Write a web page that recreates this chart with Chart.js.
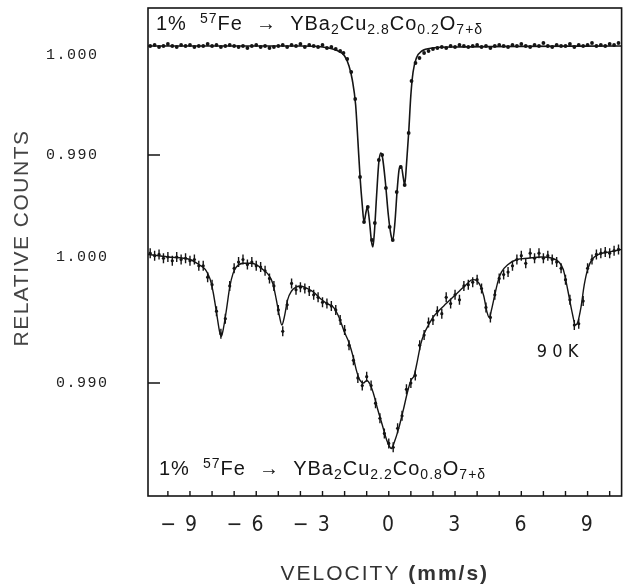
<!DOCTYPE html>
<html><head><meta charset="utf-8">
<script src="https://cdn.jsdelivr.net/npm/chart.js@4/dist/chart.umd.min.js"></script>
<style>html,body{margin:0;padding:0;background:#fff}#wrap{width:628px;height:588px}</style>
</head><body><div id="wrap"><canvas id="c" width="628" height="588"></canvas></div>
<script>
// ---- Top spectrum: 1% 57Fe -> YBa2Cu2.8Co0.2O7+d (measured points) ----
const velTop = [-10.8,-10.6,-10.4,-10.2,-10.0,-9.8,-9.6,-9.4,-9.2,-9.0,-8.8,-8.6,-8.4,-8.2,-8.0,-7.8,-7.6,-7.4,-7.2,-7.0,-6.8,-6.6,-6.4,-6.2,-6.0,-5.8,-5.6,-5.4,-5.2,-5.0,-4.8,-4.6,-4.4,-4.2,-4.0,-3.8,-3.6,-3.4,-3.2,-3.0,-2.8,-2.6,-2.4,-2.2,-2.05,-1.88,-1.70,-1.52,-1.30,-1.12,-0.95,-0.76,-0.63,-0.45,-0.30,-0.13,0.04,0.18,0.36,0.54,0.72,0.90,1.03,1.21,1.39,1.6,1.8,2.0,2.2,2.4,2.6,2.8,3.0,3.2,3.4,3.6,3.8,4.0,4.2,4.4,4.6,4.8,5.0,5.2,5.4,5.6,5.8,6.0,6.2,6.4,6.6,6.8,7.0,7.2,7.4,7.6,7.8,8.0,8.2,8.4,8.6,8.8,9.0,9.2,9.4,9.6,9.8,10.0,10.2,10.4];
const relTop = [1.0009,1.0010,1.0008,1.0009,1.0011,1.0009,1.0008,1.0010,1.0009,1.0010,1.0008,1.0009,1.0009,1.0011,1.0009,1.0010,1.0008,1.0009,1.0010,1.0009,1.0008,1.0009,1.0007,1.0009,1.0010,1.0008,1.0009,1.0007,1.0008,1.0009,1.0010,1.0008,1.0010,1.0009,1.0011,1.0008,1.0010,1.0009,1.0008,1.0010,1.0007,1.0008,1.0006,1.0004,1.0002,0.9996,0.9983,0.9956,0.9878,0.9833,0.9848,0.9815,0.9832,0.9895,0.9900,0.9867,0.9828,0.9815,0.9863,0.9888,0.9870,0.9922,0.9974,0.9992,0.9997,1.0002,1.0004,1.0006,1.0007,1.0008,1.0007,1.0009,1.0008,1.0010,1.0009,1.0008,1.0009,1.0010,1.0008,1.0009,1.0007,1.0009,1.0010,1.0009,1.0008,1.0010,1.0009,1.0011,1.0009,1.0008,1.0010,1.0009,1.0012,1.0009,1.0008,1.0010,1.0009,1.0009,1.0011,1.0008,1.0010,1.0009,1.0010,1.0012,1.0009,1.0010,1.0009,1.0011,1.0010,1.0012];
// fitted curve, top spectrum
const fitTopVel = [-10.9,-4.0,-3.0,-2.4,-2.0,-1.8,-1.65,-1.5,-1.4,-1.3,-1.2,-1.12,-1.03,-0.97,-0.88,-0.78,-0.72,-0.65,-0.55,-0.45,-0.36,-0.28,-0.15,-0.02,0.10,0.18,0.28,0.38,0.48,0.56,0.66,0.72,0.80,0.90,1.00,1.10,1.25,1.5,2.0,3.0,10.54];
const fitTopRel = [1.0009,1.0009,1.0008,1.0005,0.9999,0.9989,0.9975,0.9950,0.9915,0.9878,0.9850,0.9833,0.9843,0.9848,0.9835,0.9813,0.9808,0.9823,0.9860,0.9893,0.9902,0.9897,0.9872,0.9840,0.9820,0.9815,0.9833,0.9865,0.9887,0.9889,0.9877,0.9870,0.9890,0.9922,0.9960,0.9983,0.9997,1.0004,1.0007,1.0008,1.0009];

// ---- Bottom spectrum: 1% 57Fe -> YBa2Cu2.2Co0.8O7+d, 90 K (measured points) ----
const velBot = [-10.8,-10.6,-10.4,-10.2,-10.0,-9.8,-9.6,-9.4,-9.2,-9.0,-8.8,-8.6,-8.4,-8.2,-8.0,-7.8,-7.6,-7.4,-7.2,-7.0,-6.8,-6.6,-6.4,-6.2,-6.0,-5.8,-5.6,-5.4,-5.2,-5.0,-4.8,-4.6,-4.4,-4.2,-4.0,-3.8,-3.6,-3.4,-3.2,-3.0,-2.8,-2.6,-2.4,-2.2,-2.0,-1.8,-1.6,-1.4,-1.2,-1.0,-0.8,-0.6,-0.4,-0.2,0.0,0.2,0.4,0.6,0.8,1.0,1.2,1.4,1.6,1.8,2.0,2.2,2.4,2.6,2.8,3.0,3.2,3.4,3.6,3.8,4.0,4.2,4.4,4.6,4.8,5.0,5.2,5.4,5.6,5.8,6.0,6.2,6.4,6.6,6.8,7.0,7.2,7.4,7.6,7.8,8.0,8.2,8.4,8.6,8.8,9.0,9.2,9.4,9.6,9.8,10.0,10.2,10.4];
const relBot = [1.0003,1.0001,1.0002,0.9999,1.0000,0.9997,1.0000,0.9998,0.9999,0.9997,0.9998,0.9993,0.9993,0.9984,0.9978,0.9957,0.9939,0.9951,0.9977,0.9991,0.9996,0.9998,0.9994,0.9996,0.9993,0.9992,0.9989,0.9983,0.9977,0.9958,0.9941,0.9962,0.9979,0.9974,0.9976,0.9975,0.9973,0.9970,0.9968,0.9964,0.9963,0.9961,0.9958,0.9950,0.9942,0.9930,0.9918,0.9904,0.9898,0.9905,0.9898,0.9884,0.9872,0.9860,0.9852,0.9849,0.9864,0.9874,0.9895,0.9900,0.9906,0.9930,0.9938,0.9948,0.9950,0.9957,0.9955,0.9968,0.9963,0.9970,0.9966,0.9977,0.9978,0.9980,0.9982,0.9975,0.9960,0.9952,0.9970,0.9983,0.9986,0.9988,0.9993,0.9998,1.0001,0.9995,1.0003,0.9999,1.0003,0.9999,1.0001,0.9998,0.9996,0.9991,0.9982,0.9966,0.9946,0.9947,0.9965,0.9991,0.9998,1.0002,1.0003,1.0004,1.0003,1.0005,1.0006];
// fitted curve, bottom spectrum
const fitBotVel = [-10.9,-10.0,-9.0,-8.6,-8.3,-8.1,-7.95,-7.8,-7.65,-7.58,-7.5,-7.35,-7.2,-7.05,-6.9,-6.6,-6.3,-6.0,-5.7,-5.45,-5.25,-5.1,-4.95,-4.84,-4.72,-4.58,-4.4,-4.2,-4.0,-3.7,-3.4,-3.1,-2.8,-2.5,-2.25,-2.0,-1.8,-1.6,-1.45,-1.3,-1.15,-1.0,-0.85,-0.7,-0.5,-0.3,-0.1,0.05,0.12,0.25,0.45,0.65,0.85,1.0,1.15,1.3,1.45,1.6,1.8,2.0,2.3,2.6,2.9,3.2,3.5,3.8,4.0,4.15,4.3,4.45,4.55,4.65,4.8,4.95,5.1,5.4,5.8,6.3,6.9,7.4,7.7,7.9,8.1,8.3,8.45,8.55,8.7,8.85,9.0,9.2,9.5,10.0,10.54];
const fitBotRel = [1.0002,1.0000,0.9998,0.9994,0.9990,0.9983,0.9972,0.9956,0.9940,0.9937,0.9942,0.9958,0.9976,0.9987,0.9992,0.9995,0.9995,0.9994,0.9990,0.9986,0.9979,0.9967,0.9953,0.9946,0.9953,0.9966,0.9973,0.9976,0.9977,0.9975,0.9972,0.9967,0.9963,0.9960,0.9952,0.9940,0.9932,0.9920,0.9909,0.9902,0.9900,0.9902,0.9899,0.9892,0.9879,0.9867,0.9855,0.9849,0.9848,0.9853,0.9864,0.9878,0.9893,0.9902,0.9906,0.9918,0.9931,0.9939,0.9946,0.9952,0.9958,0.9963,0.9968,0.9973,0.9978,0.9982,0.9981,0.9977,0.9969,0.9956,0.9952,0.9958,0.9970,0.9981,0.9988,0.9994,0.9998,0.9999,1.0000,0.9999,0.9996,0.9990,0.9974,0.9956,0.9946,0.9948,0.9960,0.9978,0.9990,0.9998,1.0002,1.0004,1.0006];

// ---- axes ----
const xLabelTicks = [-9,-6,-3,0,3,6,9];
const xMinorTicks = [-10,-9,-8,-7,-6,-5,-4,-3,-2,-1,0,1,2,3,4,5,6,7,8,9,10];
const yTickValues = [1.000, 0.990];
const yInnerTicks = [0.990];
const xTitleParts = [['VELOCITY ', 'normal'], ['(mm/s)', 'bold']];
const yTitle = 'RELATIVE COUNTS';
const labelTopParts = [['1%  ',''],['57','sup'],['Fe  \u2192  YBa',''],['2','sub'],['Cu',''],['2.8','sub'],['Co',''],['0.2','sub'],['O',''],['7+\u03b4','sub']];
const labelBotParts = [['1%  ',''],['57','sup'],['Fe  \u2192  YBa',''],['2','sub'],['Cu',''],['2.2','sub'],['Co',''],['0.8','sub'],['O',''],['7+\u03b4','sub']];
const tempLabel = '9 0 K';

const pts = (xs, ys) => xs.map((x, i) => ({x, y: ys[i]}));
const INK = '#151515';

function drawRich(ctx, parts, x, y, size) {
  let cx = x;
  for (const [t, kind] of parts) {
    let fs = size, dy = 0;
    if (kind === 'sub') { fs = Math.round(size * 0.72); dy = size * 0.2; }
    if (kind === 'sup') { fs = Math.round(size * 0.72); dy = -size * 0.36; }
    ctx.font = fs + 'px "Liberation Sans", Arial, sans-serif';
    ctx.fillText(t, cx, y + dy);
    cx += ctx.measureText(t).width;
  }
}

const spacing = {
  id: 'spacing',
  beforeDraw(chart) { chart.ctx.letterSpacing = '1.5px'; }
};

const decor = {
  id: 'decor',
  afterDatasetsDraw(chart) {
    const {ctx, chartArea: a, scales} = chart;
    ctx.save();
    ctx.strokeStyle = INK; ctx.fillStyle = INK;
    ctx.lineWidth = 1.6;
    ctx.strokeRect(a.left, a.top, a.right - a.left, a.bottom - a.top);
    ctx.lineWidth = 1.4;
    ctx.beginPath();
    for (const v of xMinorTicks) {
      const px = scales.x.getPixelForValue(v);
      ctx.moveTo(px, a.bottom); ctx.lineTo(px, a.bottom - 5);
    }
    for (const id of ['yTop', 'yBot']) {
      for (const v of yInnerTicks) {
        const py = scales[id].getPixelForValue(v);
        ctx.moveTo(a.left, py); ctx.lineTo(a.left + 12, py);
      }
    }
    ctx.stroke();
    ctx.textBaseline = 'alphabetic'; ctx.textAlign = 'left';
    ctx.letterSpacing = '1px';
    drawRich(ctx, labelTopParts, a.left + 8, a.top + 22, 20);
    drawRich(ctx, labelBotParts, a.left + 11, a.bottom - 21, 20);
    ctx.letterSpacing = '0px';
    ctx.font = '18px "Liberation Sans Narrow", "DejaVu Sans Condensed", sans-serif';
    ctx.textBaseline = 'middle';
    ctx.fillText(tempLabel, scales.x.getPixelForValue(6.7), scales.yBot.getPixelForValue(0.9924));
    // y axis title
    ctx.save();
    ctx.fillStyle = '#444';
    ctx.letterSpacing = '1.5px';
    ctx.font = '21px "Liberation Sans", Arial, sans-serif';
    ctx.textAlign = 'center'; ctx.textBaseline = 'middle';
    ctx.translate(scales.yTop.left + 22, (a.top + a.bottom) / 2 - 14);
    ctx.rotate(-Math.PI / 2);
    ctx.fillText(yTitle, 0, 0);
    ctx.restore();
    // x axis title with bold unit
    ctx.fillStyle = '#333';
    ctx.letterSpacing = '2px';
    ctx.textAlign = 'left';
    const sizes = 21;
    let total = 0;
    for (const [t, w] of xTitleParts) { ctx.font = w + ' ' + sizes + 'px "Liberation Sans", Arial, sans-serif'; total += ctx.measureText(t).width; }
    let cx = (a.left + a.right) / 2 - total / 2;
    ctx.textBaseline = 'middle';
    for (const [t, w] of xTitleParts) { ctx.font = w + ' ' + sizes + 'px "Liberation Sans", Arial, sans-serif'; ctx.fillText(t, cx, 574); cx += ctx.measureText(t).width; }
    ctx.restore();
  }
};

const noPad = s => { s.paddingTop = 0; s.paddingBottom = 0; s.paddingLeft = 0; s.paddingRight = 0; };

new Chart(document.getElementById('c'), {
  type: 'line',
  data: {
    datasets: [
      {data: pts(fitTopVel, fitTopRel), yAxisID: 'yTop', borderColor: INK, borderWidth: 1.6, pointRadius: 0, cubicInterpolationMode: 'monotone', fill: false},
      {data: pts(velTop, relTop), yAxisID: 'yTop', showLine: false, pointStyle: 'circle', pointRadius: 1.9, backgroundColor: INK, borderColor: INK, borderWidth: 0},
      {data: pts(fitBotVel, fitBotRel), yAxisID: 'yBot', borderColor: INK, borderWidth: 1.4, pointRadius: 0, cubicInterpolationMode: 'monotone', fill: false},
      {data: pts(velBot, relBot), yAxisID: 'yBot', showLine: false, pointStyle: 'line', rotation: 90, pointRadius: 5, borderColor: INK, borderWidth: 1.4},
      {data: pts(velBot, relBot), yAxisID: 'yBot', showLine: false, pointStyle: 'circle', pointRadius: 1.6, backgroundColor: INK, borderColor: INK, borderWidth: 0}
    ]
  },
  options: {
    responsive: false, animation: false, devicePixelRatio: 1,
    layout: {padding: {top: 8, right: 2, left: 0, bottom: 0}},
    plugins: {legend: {display: false}, tooltip: {enabled: false}},
    scales: {
      x: {
        type: 'linear', position: 'bottom', min: -10.9, max: 10.54,
        afterBuildTicks: s => { s.ticks = xLabelTicks.map(v => ({value: v})); },
        afterFit: s => { s.height = 92; noPad(s); },
        grid: {display: false, drawTicks: false}, border: {display: false},
        ticks: {color: '#222', padding: 17, maxRotation: 0, autoSkip: false,
          font: {family: '"Liberation Sans Narrow", "DejaVu Sans Condensed", sans-serif', size: 21},
          callback: v => v < 0 ? '\u2212 ' + Math.abs(v) + '\u2007 ' : String(v)}
      },
      yTop: {
        type: 'linear', position: 'left', weight: 2, min: 0.9559, max: 1.0047,
        afterBuildTicks: s => { s.ticks = yTickValues.map(v => ({value: v})); },
        afterFit: s => { s.width = 40; noPad(s); },
        grid: {display: false, drawTicks: false}, border: {display: false},
        ticks: {color: '#222', mirror: true, padding: 6, font: {family: '"Liberation Mono", "DejaVu Sans Mono", monospace', size: 15}, callback: v => Number(v).toFixed(3)},
        title: {display: false, text: yTitle}
      },
      yBot: {
        type: 'linear', position: 'left', weight: 1, min: 0.98103, max: 1.01976,
        afterBuildTicks: s => { s.ticks = yTickValues.map(v => ({value: v})); },
        afterFit: s => { s.width = 108; noPad(s); },
        grid: {display: false, drawTicks: false}, border: {display: false},
        ticks: {color: '#222', mirror: true, padding: -92, font: {family: '"Liberation Mono", "DejaVu Sans Mono", monospace', size: 15}, callback: v => Number(v).toFixed(3)}
      }
    }
  },
  plugins: [spacing, decor]
});
</script></body></html>
